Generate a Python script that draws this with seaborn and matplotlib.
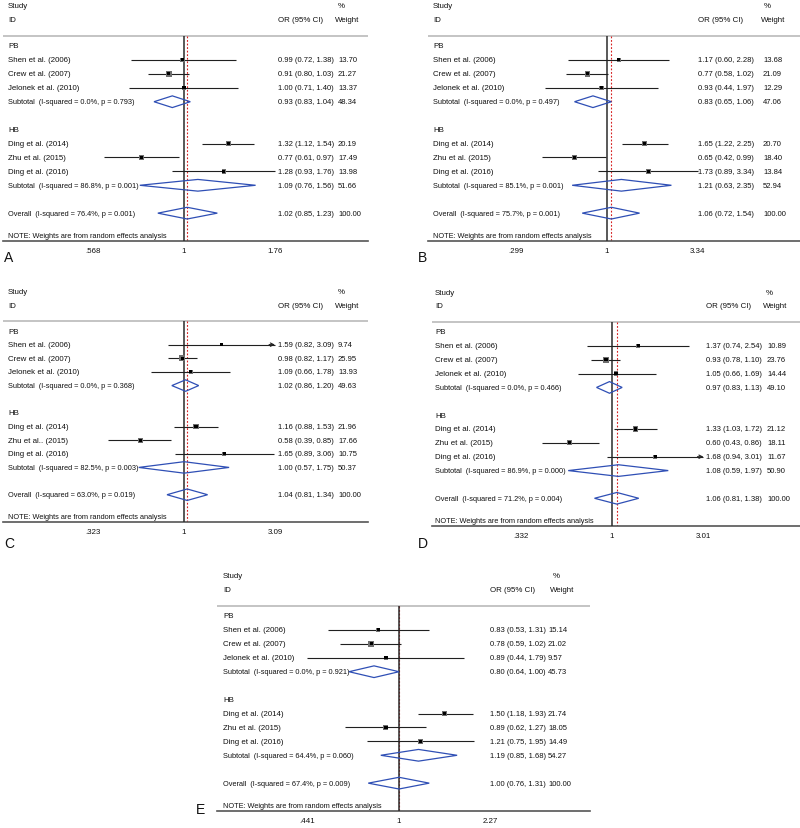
import numpy as np
import pandas as pd
import matplotlib
matplotlib.use('Agg')
import matplotlib.pyplot as plt
import matplotlib.transforms as mtransforms
from matplotlib.patches import Polygon
import seaborn as sns

# study labels
pb_studies = ['Shen et al. (2006)', 'Crew et al. (2007)', 'Jelonek et al. (2010)']
hb_studies = ['Ding et al. (2014)', 'Zhu et al. (2015)', 'Ding et al. (2016)']
hb_studies_c = ['Ding et al. (2014)', 'Zhu et al.. (2015)', 'Ding et al. (2016)']

# panel A
or_a = [0.99, 0.91, 1.00, 1.32, 0.77, 1.28]
lo_a = [0.72, 0.80, 0.71, 1.12, 0.61, 0.93]
hi_a = [1.38, 1.03, 1.40, 1.54, 0.97, 1.76]
wt_a = [13.70, 21.27, 13.37, 20.19, 17.49, 13.98]
pooled_a = [(0.93, 0.83, 1.04, 48.34), (1.09, 0.76, 1.56, 51.66), (1.02, 0.85, 1.23, 100.00)]
het_a = [('0.0', '0.793'), ('86.8', '0.001'), ('76.4', '0.001')]
ticks_a = ['.568', '1', '1.76']

# panel B
or_b = [1.17, 0.77, 0.93, 1.65, 0.65, 1.73]
lo_b = [0.60, 0.58, 0.44, 1.22, 0.42, 0.89]
hi_b = [2.28, 1.02, 1.97, 2.25, 0.99, 3.34]
wt_b = [13.68, 21.09, 12.29, 20.70, 18.40, 13.84]
pooled_b = [(0.83, 0.65, 1.06, 47.06), (1.21, 0.63, 2.35, 52.94), (1.06, 0.72, 1.54, 100.00)]
het_b = [('0.0', '0.497'), ('85.1', '0.001'), ('75.7', '0.001')]
ticks_b = ['.299', '1', '3.34']

# panel C
or_c = [1.59, 0.98, 1.09, 1.16, 0.58, 1.65]
lo_c = [0.82, 0.82, 0.66, 0.88, 0.39, 0.89]
hi_c = [3.09, 1.17, 1.78, 1.53, 0.85, 3.06]
wt_c = [9.74, 25.95, 13.93, 21.96, 17.66, 10.75]
pooled_c = [(1.02, 0.86, 1.20, 49.63), (1.00, 0.57, 1.75, 50.37), (1.04, 0.81, 1.34, 100.00)]
het_c = [('0.0', '0.368'), ('82.5', '0.003'), ('63.0', '0.019')]
ticks_c = ['.323', '1', '3.09']

# panel D
or_d = [1.37, 0.93, 1.05, 1.33, 0.60, 1.68]
lo_d = [0.74, 0.78, 0.66, 1.03, 0.43, 0.94]
hi_d = [2.54, 1.10, 1.69, 1.72, 0.86, 3.01]
wt_d = [10.89, 23.76, 14.44, 21.12, 18.11, 11.67]
pooled_d = [(0.97, 0.83, 1.13, 49.10), (1.08, 0.59, 1.97, 50.90), (1.06, 0.81, 1.38, 100.00)]
het_d = [('0.0', '0.466'), ('86.9', '0.000'), ('71.2', '0.004')]
ticks_d = ['.332', '1', '3.01']

# panel E
or_e = [0.83, 0.78, 0.89, 1.50, 0.89, 1.21]
lo_e = [0.53, 0.59, 0.44, 1.18, 0.62, 0.75]
hi_e = [1.31, 1.02, 1.79, 1.93, 1.27, 1.95]
wt_e = [15.14, 21.02, 9.57, 21.74, 18.05, 14.49]
pooled_e = [(0.80, 0.64, 1.00, 45.73), (1.19, 0.85, 1.68, 54.27), (1.00, 0.76, 1.31, 100.00)]
het_e = [('0.0', '0.921'), ('64.4', '0.060'), ('67.4', '0.009')]
ticks_e = ['.441', '1', '2.27']

# layout in pixels: left, right, null x, px per ln unit, PB row y, axis y,
# label x, OR x, weight x, weight header x, letter x, letter y, arrow rows
layout = {
    'A': dict(L=3, R=368, x0=184, k=161, pb=47, ax_y=242, lab=8, orx=278, wx=338, whx=335, lx=4, ly=258, arrows=[]),
    'B': dict(L=428, R=800, x0=607, k=75.4, pb=47, ax_y=242, lab=433, orx=698, wx=763, whx=761, lx=418, ly=258, arrows=[]),
    'C': dict(L=3, R=368, x0=184, k=80.6, pb=332, ax_y=523, lab=8, orx=278, wx=338, whx=335, lx=4, ly=544, arrows=[0]),
    'D': dict(L=432, R=800, x0=612, k=83, pb=333, ax_y=527, lab=435, orx=706, wx=767, whx=763, lx=418, ly=544, arrows=[5]),
    'E': dict(L=217, R=590, x0=399, k=112, pb=617, ax_y=812, lab=223, orx=490, wx=548, whx=550, lx=196, ly=810, arrows=[]),
}

W, H = 800, 829
FS = 5.7
FS_NUM = 5.5
FS_NOTE = 5.35
BLUE = '#2f4fb5'

sns.set_style('white')
plt.rcParams['font.family'] = ['Liberation Sans', 'DejaVu Sans']

fig = plt.figure(figsize=(W / 100, H / 100), dpi=100)


def forest(name, ors, los, his, wts, pooled, het, ticks, hb_names):
    p = layout[name]
    pitch = (p['ax_y'] - p['pb']) / 14.0
    top_row = -3.4
    top_px = p['pb'] + top_row * pitch
    ax = fig.add_axes([p['L'] / W, 1 - p['ax_y'] / H, (p['R'] - p['L']) / W, (p['ax_y'] - top_px) / H])
    ax.set_xscale('log')
    ax.set_xlim(np.exp((p['L'] - p['x0']) / p['k']), np.exp((p['R'] - p['x0']) / p['k']))
    ax.set_ylim(14, top_row)

    tick_vals = [float(t) for t in ticks]
    tmin, tmax = tick_vals[0], tick_vals[-1]

    rows = [1, 2, 3, 7, 8, 9]
    df = pd.DataFrame({'row': rows, 'or': ors, 'lo': los, 'hi': his, 'wt': wts})
    df['hi_c'] = df['hi'].clip(upper=tmax)
    df['lo_c'] = df['lo'].clip(lower=tmin)

    # top separator line
    ax.axhline(-0.72, color='#c4c4c4', lw=1.4, zorder=1)
    # null and overall lines
    ax.vlines(pooled[2][0], -0.72, 14, colors='#d62020', linestyles=(0, (1.6, 1.6)), lw=0.8, zorder=2)
    ax.vlines(1, -0.72, 14, colors='#2b2b2b', lw=1.1, zorder=3)

    # confidence intervals
    ax.hlines(df['row'], df['lo_c'], df['hi_c'], colors='#202020', lw=0.8, zorder=4)
    for i in p['arrows']:
        r = df.loc[i]
        ax.annotate('', xy=(r['hi_c'], r['row']), xytext=(r['hi_c'] * 0.93, r['row']),
                    arrowprops=dict(arrowstyle='->', color='#202020', lw=0.8,
                                    mutation_scale=6, shrinkA=0, shrinkB=0), zorder=4)

    # weighted boxes + point
    sizes = (np.sqrt(df['wt']) * 0.85) ** 2
    ax.scatter(df['or'], df['row'], s=sizes, marker='s', color='#6e6e6e',
               linewidths=0, zorder=5)
    sns.scatterplot(data=df, x='or', y='row', marker='s', color='black', s=5,
                    linewidth=0, edgecolor='none', ax=ax, zorder=6, legend=False)

    # diamonds
    for (est, lo, hi, w), r in zip(pooled, [4, 10, 12]):
        dia = Polygon([(lo, r), (est, r - 0.42), (hi, r), (est, r + 0.42)], closed=True,
                      fill=False, edgecolor=BLUE, lw=0.9, zorder=6)
        ax.add_patch(dia)

    # text columns
    tr = mtransforms.blended_transform_factory(fig.transFigure, ax.transData)
    kw = dict(transform=tr, fontsize=FS, va='center', ha='left', color='#111111')
    kwn = dict(kw, fontsize=FS_NUM)
    kws = dict(kw, fontsize=FS_NOTE)
    lab_x = p['lab'] / W
    or_x = p['orx'] / W
    w_x = p['wx'] / W
    wh_x = p['whx'] / W
    ax.text(lab_x, -2.88, 'Study', **kw)
    ax.text(lab_x, -1.9, 'ID', **kw)
    ax.text(or_x, -1.9, 'OR (95% CI)', **kw)
    ax.text(wh_x + 3 / W, -2.88, '%', **kw)
    ax.text(wh_x, -1.9, 'Weight', **kw)
    ax.text(lab_x, 0, 'PB', **kw)
    ax.text(lab_x, 6, 'HB', **kw)
    for name_, r in zip(pb_studies + hb_names, rows):
        ax.text(lab_x, r, name_, **kw)
    for _, r in df.iterrows():
        ax.text(or_x, r['row'], f"{r['or']:.2f} ({r['lo']:.2f}, {r['hi']:.2f})", **kwn)
        ax.text(w_x, r['row'], f"{r['wt']:.2f}", **kwn)
    titles = ['Subtotal', 'Subtotal', 'Overall']
    for t, (i2, pv), (est, lo, hi, w), r in zip(titles, het, pooled, [4, 10, 12]):
        ax.text(lab_x, r, f"{t}  (I-squared = {i2}%, p = {pv})", **kws)
        ax.text(or_x, r, f"{est:.2f} ({lo:.2f}, {hi:.2f})", **kwn)
        ax.text(w_x, r, f"{w:.2f}", **kwn)
    ax.text(lab_x, 13.6, 'NOTE: Weights are from random effects analysis', **kws)

    # axis
    for s in ['top', 'right', 'left']:
        ax.spines[s].set_visible(False)
    ax.spines['bottom'].set_color('#555555')
    ax.spines['bottom'].set_linewidth(1.2)
    ax.set_xticks(tick_vals)
    ax.set_xticklabels(ticks)
    ax.xaxis.set_minor_locator(matplotlib.ticker.NullLocator())
    ax.tick_params(axis='x', direction='out', length=3, width=0.8, color='#555555',
                   labelsize=FS, pad=1.5, labelcolor='#111111')
    ax.set_yticks([])
    ax.set_xlabel('')
    ax.set_ylabel('')
    ax.patch.set_alpha(0)

    fig.text(p['lx'] / W, 1 - p['ly'] / H, name, fontsize=10, ha='left', va='center', color='#111111')


forest('A', or_a, lo_a, hi_a, wt_a, pooled_a, het_a, ticks_a, hb_studies)
forest('B', or_b, lo_b, hi_b, wt_b, pooled_b, het_b, ticks_b, hb_studies)
forest('C', or_c, lo_c, hi_c, wt_c, pooled_c, het_c, ticks_c, hb_studies_c)
forest('D', or_d, lo_d, hi_d, wt_d, pooled_d, het_d, ticks_d, hb_studies)
forest('E', or_e, lo_e, hi_e, wt_e, pooled_e, het_e, ticks_e, hb_studies)

plt.savefig('out.png', dpi=100)
